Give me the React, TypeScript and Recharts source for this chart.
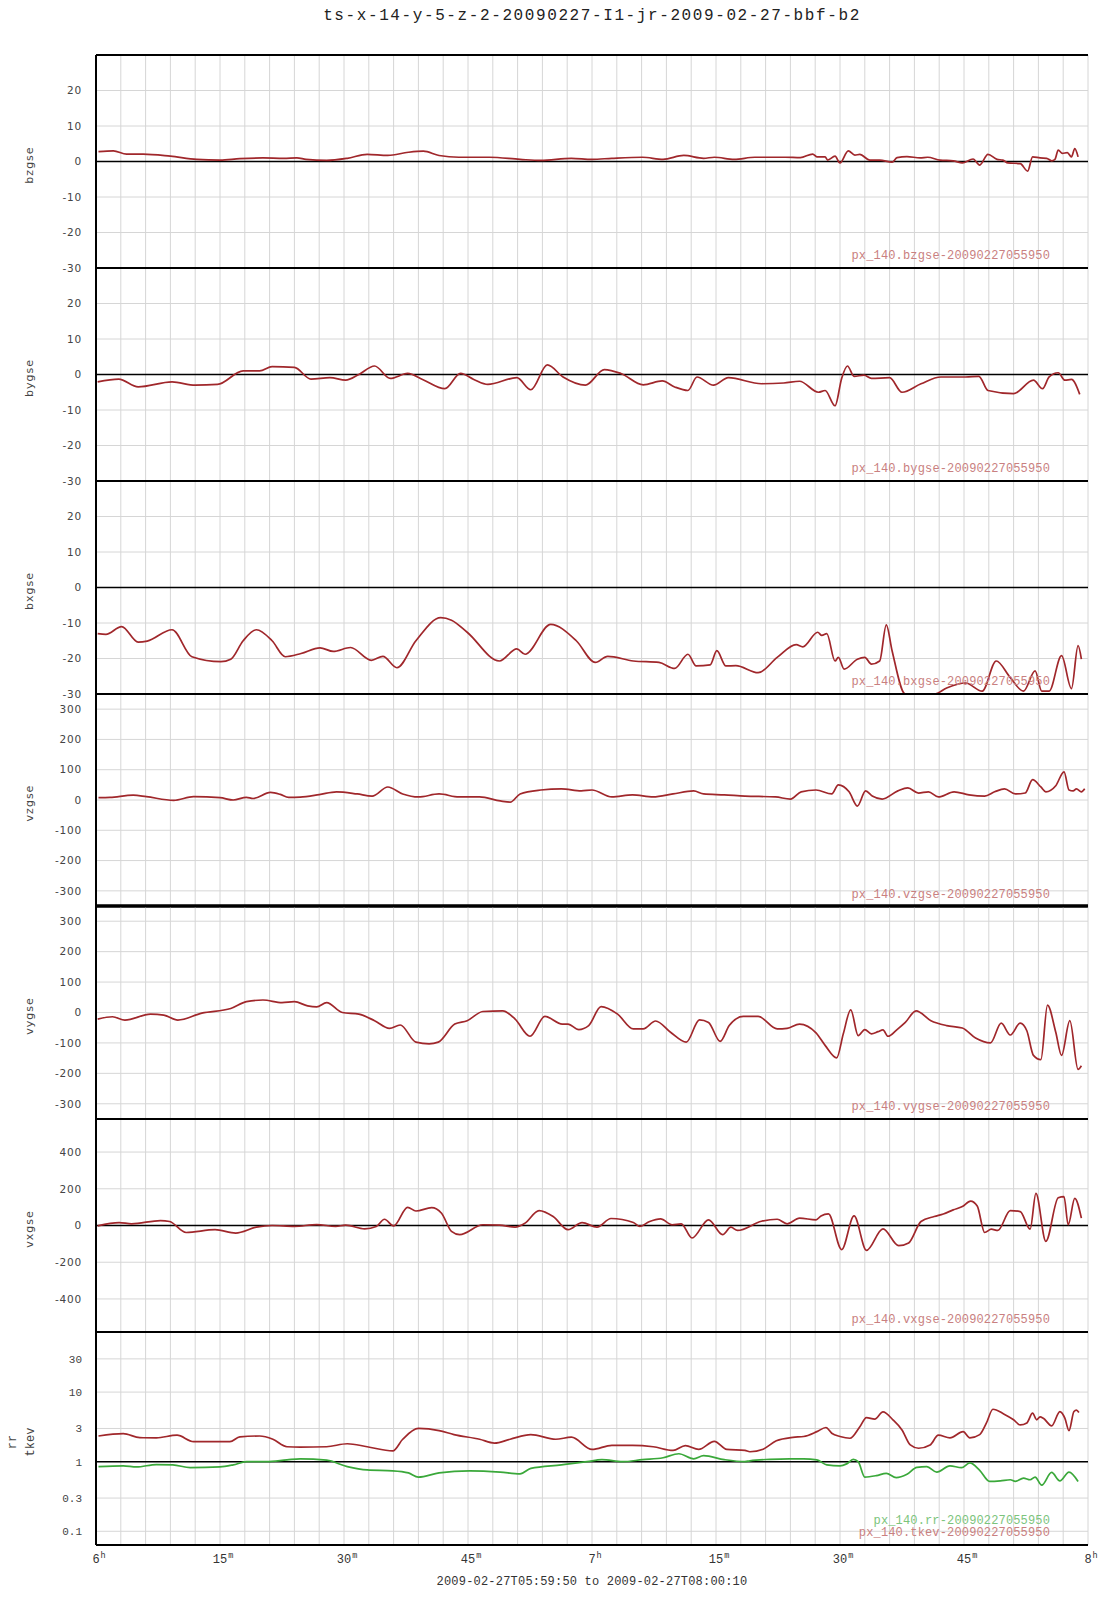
import { LineChart, Line, XAxis, YAxis, CartesianGrid, ReferenceLine } from "recharts";

// ---- data (minutes after 06:00) ----
const bzgseMinutes = [0.3, 2.1, 3.7, 5.7, 9.0, 12.2, 15.0, 17.4, 20.2, 22.7, 24.3, 25.4, 27.9, 30.4, 32.8, 35.3, 37.8, 39.6, 41.5, 43.9, 47.6, 51.3, 53.8, 57.5, 60.0, 62.4, 66.1, 68.6, 71.1, 73.5, 74.8, 77.2, 79.7, 83.4, 85.2, 86.7, 87.2, 88.2, 88.5, 89.4, 90.0, 91.0, 91.8, 92.4, 93.6, 94.8, 96.3, 96.9, 98.1, 99.7, 100.6, 102.1, 103.7, 104.8, 106.1, 106.9, 107.9, 109.0, 109.7, 110.3, 111.8, 112.7, 113.3, 114.2, 115.0, 115.6, 116.0, 116.4, 116.9, 117.5, 118.0, 118.4, 118.8];
const bzgseValues = [2.8, 3.0, 2.1, 2.1, 1.5, 0.6, 0.4, 0.8, 1.0, 0.9, 1.0, 0.6, 0.3, 0.9, 2.0, 1.7, 2.6, 2.9, 1.7, 1.2, 1.2, 0.6, 0.3, 0.9, 0.6, 0.9, 1.2, 0.6, 1.7, 0.9, 1.2, 0.6, 1.2, 1.2, 1.1, 2.1, 1.3, 1.3, 0.4, 1.5, -0.4, 3.0, 1.8, 2.0, 0.4, 0.4, -0.2, 1.1, 1.4, 1.0, 1.2, 0.4, 0.2, -0.4, 0.7, -1.0, 2.0, 0.6, 0.4, -0.4, -0.6, -2.7, 1.3, 1.0, 0.9, 0.2, 0.6, 3.2, 2.3, 2.5, 1.3, 3.6, 1.3];

const bygseMinutes = [0.2, 2.75, 5.1, 9.2, 12.0, 14.7, 17.8, 19.8, 21.3, 24.0, 26.0, 28.3, 30.2, 31.8, 33.7, 35.6, 37.7, 39.5, 42.2, 44.1, 45.7, 47.4, 50.9, 52.6, 54.6, 56.5, 59.2, 61.5, 63.5, 66.2, 68.5, 70.0, 71.6, 72.7, 74.7, 76.5, 80.5, 83.2, 85.1, 87.4, 88.2, 89.4, 90.2, 90.9, 91.7, 92.9, 93.8, 96.0, 97.5, 99.8, 102.2, 105.2, 106.8, 107.9, 111.0, 113.4, 114.5, 115.3, 116.4, 117.2, 118.0, 119.0];
const bygseValues = [-2.1, -1.3, -3.5, -2.1, -3.0, -2.8, 1.0, 1.0, 2.2, 2.0, -1.3, -0.9, -1.6, 0, 2.4, -1.1, 0.3, -1.4, -4.0, 0.3, -1.4, -2.8, -0.9, -4.3, 2.7, -0.7, -3.0, 1.4, 0.3, -2.9, -1.8, -3.5, -4.5, -0.7, -3.0, -0.9, -2.6, -2.4, -1.9, -5.0, -4.5, -8.8, -1.1, 2.4, -0.5, -0.2, -1.1, -0.9, -5.0, -2.6, -0.7, -0.7, -0.5, -4.5, -5.4, -1.6, -4.0, -0.7, 0.5, -1.6, -1.4, -5.6];

const bxgseMinutes = [0.2, 1.2, 3.1, 5.1, 6.2, 9.2, 11.6, 15.1, 16.3, 17.8, 19.4, 21.3, 22.9, 24.8, 27.1, 28.7, 30.8, 33.3, 34.7, 36.4, 38.7, 41.7, 43.0, 44.9, 48.8, 50.9, 51.9, 55.0, 58.1, 60.4, 61.9, 65.0, 68.1, 70.0, 71.6, 72.6, 74.3, 75.1, 76.2, 77.4, 80.1, 82.4, 84.7, 85.5, 87.3, 87.8, 88.4, 89.4, 89.8, 90.5, 92.1, 93.0, 93.8, 94.8, 95.6, 96.3, 97.9, 101.4, 102.9, 105.2, 107.2, 108.9, 110.6, 112.2, 113.6, 114.4, 115.3, 116.8, 118.0, 118.8, 119.2];
const bxgseValues = [-13.0, -13.2, -11.0, -15.4, -15.1, -11.9, -19.5, -20.9, -20.2, -15.0, -11.9, -15.0, -19.5, -18.6, -17.0, -18.0, -16.9, -20.5, -19.4, -22.6, -15.0, -8.5, -9.2, -12.6, -20.7, -17.3, -18.8, -10.4, -15.0, -21.1, -19.4, -20.7, -21.1, -22.8, -18.8, -22.1, -21.8, -17.8, -22.1, -22.0, -24.0, -19.7, -16.1, -16.7, -12.6, -13.5, -13.0, -20.7, -19.7, -23.0, -20.2, -19.7, -21.6, -20.7, -10.5, -17.8, -30, -30, -28.3, -26.9, -29.2, -20.7, -25.4, -29.2, -23.5, -29.2, -29.2, -19.2, -28.5, -16.4, -20.2];

const vzgseMinutes = [0.3, 1.7, 4.5, 6.1, 9.4, 11.8, 15.0, 16.6, 18.2, 19.0, 21.1, 22.3, 23.3, 24.7, 27.0, 29.1, 31.6, 33.4, 35.3, 37.1, 39.0, 41.5, 43.9, 46.4, 48.9, 50.1, 51.3, 53.8, 56.3, 58.7, 60.0, 62.4, 64.9, 67.4, 69.8, 72.3, 73.5, 76.0, 78.5, 82.2, 84.0, 85.3, 87.1, 89.0, 89.8, 91.1, 92.1, 93.1, 93.9, 95.1, 97.0, 98.2, 99.5, 100.7, 101.9, 103.8, 105.6, 107.5, 108.7, 109.9, 111.2, 112.4, 113.3, 114.3, 114.9, 116.1, 117.1, 117.7, 118.2, 118.6, 119.2, 119.6];
const vzgseValues = [7.6, 8.7, 16, 11, -1, 11, 7.6, 0, 8.7, 5, 25, 18.5, 8.7, 9.8, 18, 27, 20, 13, 43, 20, 10, 20, 10, 10, -3, -7, 20, 33, 37, 30, 33, 10, 17, 10, 20, 30, 20, 17, 13, 10, 3, 27, 33, 20, 50, 27, -20, 30, 13, 3, 30, 40, 23, 27, 10, 27, 17, 13, 27, 37, 20, 23, 67, 43, 27, 47, 93, 33, 30, 37, 27, 37];

const vygseMinutes = [0.2, 2.0, 3.5, 6.6, 8.2, 9.9, 12.8, 16.3, 18.2, 20.2, 22.5, 24.0, 25.6, 26.7, 27.9, 29.8, 31.8, 33.7, 35.5, 36.8, 38.7, 40.3, 41.4, 43.4, 44.9, 46.8, 49.2, 50.7, 52.5, 54.3, 56.4, 57.1, 58.4, 59.6, 61.1, 63.1, 65.0, 66.2, 67.7, 69.5, 71.4, 73.0, 74.1, 75.5, 76.6, 78.3, 80.1, 82.4, 83.6, 85.1, 87.1, 88.2, 89.6, 90.4, 91.3, 92.2, 93.0, 93.8, 94.6, 95.2, 95.8, 96.9, 97.9, 99.2, 101.0, 102.9, 104.8, 106.4, 108.2, 109.5, 110.6, 111.8, 112.6, 113.4, 114.3, 115.1, 116.1, 116.8, 117.8, 118.8, 119.2];
const vygseValues = [-21.7, -14, -25, -5.4, -8.7, -25, -2.2, 13, 35.7, 41, 32.5, 35.7, 21.7, 18.4, 32.5, 0, -5.4, -27, -52, -41, -97.5, -103, -97.5, -38, -27, 3.2, 5.4, -21.7, -78, -13, -38, -38, -56, -43, 19.5, -5.4, -54, -54, -28, -65, -97.5, -24, -32.5, -95, -43, -13, -13, -54, -52, -38, -67, -108, -149, -70, 8.7, -76, -56, -70, -63, -57, -78, -56, -32.5, 5.4, -27, -43, -51, -84, -100, -35, -74, -35, -60, -141, -155, 24, -65, -141, -27, -187, -175];

const vxgseMinutes = [0.2, 2.8, 4.3, 7.8, 8.9, 10.9, 14.4, 16.9, 19.4, 21.3, 24.0, 26.7, 29.0, 30.2, 32.5, 33.9, 34.9, 36.0, 37.7, 38.7, 40.6, 41.8, 43.0, 44.0, 46.8, 48.8, 50.7, 51.9, 53.6, 55.3, 57.1, 58.8, 60.6, 62.3, 65.0, 65.8, 66.9, 68.3, 69.7, 70.8, 72.1, 74.1, 75.8, 76.8, 77.6, 80.5, 82.4, 83.6, 85.1, 87.1, 87.7, 88.6, 90.2, 91.7, 93.2, 95.2, 97.1, 98.3, 99.8, 101.4, 102.5, 103.7, 104.8, 105.8, 106.6, 107.5, 108.3, 109.1, 110.6, 111.8, 113.0, 113.7, 114.9, 116.4, 117.1, 117.6, 118.4, 119.2];
const vxgseValues = [-2, 16, 9, 27, 22, -38, -23, -41, -9, 0, -5, 5, -5, 2, -18, -5, 34, -2, 99, 79, 97, 67, -32, -50, 4, 2, -9, 13, 81, 49, -23, 16, -9, 38, 16, -5, 20, 36, 4, 9, -68, 31, -50, -9, -27, 23, 34, 9, 40, 31, 52, 63, -131, 52, -135, -18, -110, -95, 22, 49, 63, 85, 103, 133, 106, -38, -20, -27, 81, 76, -20, 175, -86, 151, 157, 4, 148, 40];

const tkevMinutes = [0.3, 3.3, 5.3, 7.3, 9.8, 11.8, 16.2, 17.4, 19.8, 21.4, 23.1, 24.7, 27.9, 30.4, 32.8, 35.9, 37.1, 39.0, 41.5, 43.3, 46.4, 48.2, 50.1, 52.6, 55.6, 57.5, 60.0, 62.4, 64.9, 67.4, 69.8, 71.3, 72.9, 74.8, 76.3, 78.5, 79.1, 80.7, 82.3, 84.3, 85.6, 87.2, 88.3, 89.0, 90.0, 91.2, 92.4, 93.2, 94.2, 95.2, 96.4, 97.5, 98.5, 99.5, 100.9, 101.9, 103.3, 104.9, 105.7, 106.9, 107.7, 108.5, 109.8, 111.0, 111.8, 112.6, 113.3, 113.8, 114.2, 114.6, 115.6, 116.6, 117.2, 117.7, 118.3, 118.6, 118.9];
const tkevValues = [2.34, 2.53, 2.21, 2.2, 2.4, 1.94, 1.94, 2.27, 2.34, 2.1, 1.64, 1.62, 1.64, 1.81, 1.64, 1.43, 2.1, 3.0, 2.8, 2.45, 2.1, 1.85, 2.1, 2.45, 2.1, 2.25, 1.5, 1.72, 1.72, 1.64, 1.45, 1.7, 1.5, 1.96, 1.5, 1.45, 1.39, 1.51, 2.0, 2.24, 2.3, 2.7, 3.1, 2.56, 2.3, 2.17, 3.18, 4.3, 4.1, 5.2, 4.0, 2.86, 1.74, 1.56, 1.74, 2.4, 2.2, 2.7, 2.2, 2.45, 3.57, 5.67, 4.86, 4.0, 3.37, 3.6, 4.97, 4.0, 4.4, 4.2, 3.27, 5.25, 4.23, 2.8, 5.25, 5.5, 5.1];

const rrMinutes = [0.3, 3.3, 4.9, 7.3, 9.3, 11.4, 15.0, 16.6, 18.2, 20.6, 23.1, 24.7, 27.9, 30.4, 32.8, 35.9, 37.8, 39.0, 41.5, 45.2, 48.9, 51.3, 52.6, 56.3, 59.4, 61.2, 63.7, 66.1, 68.6, 70.5, 72.3, 73.5, 76.0, 78.5, 79.1, 81.5, 83.9, 85.6, 87.2, 88.4, 90.0, 90.8, 91.6, 92.2, 93.0, 94.4, 95.6, 96.8, 98.1, 99.3, 100.5, 101.7, 103.3, 104.7, 105.7, 106.9, 108.1, 109.4, 110.6, 111.2, 112.2, 113.0, 113.6, 114.4, 115.6, 116.6, 117.7, 118.8];
const rrValues = [0.85, 0.87, 0.84, 0.91, 0.9, 0.82, 0.84, 0.9, 1.0, 1.0, 1.06, 1.1, 1.05, 0.85, 0.76, 0.74, 0.69, 0.6, 0.69, 0.74, 0.71, 0.67, 0.8, 0.9, 1.0, 1.07, 1.0, 1.07, 1.14, 1.3, 1.1, 1.22, 1.07, 1.0, 1.03, 1.08, 1.1, 1.1, 1.06, 0.9, 0.87, 0.93, 1.08, 1.0, 0.6, 0.63, 0.68, 0.59, 0.66, 0.83, 0.85, 0.71, 0.87, 0.82, 0.96, 0.75, 0.52, 0.53, 0.55, 0.52, 0.58, 0.55, 0.6, 0.46, 0.7, 0.53, 0.71, 0.52];

// axis ticks / labels
const gridMinutes = Array.from({ length: 41 }, (_, i) => i * 3);
const edgeMarkMinutes = [9, 12, 24, 36, 39, 48, 51, 60, 63, 72, 75, 84, 87, 99, 111, 114];
const hourTickMinutes = [0, 15, 30, 45, 60, 75, 90, 105, 120];
const hourTickMain = ["6", "15", "30", "45", "7", "15", "30", "45", "8"];
const hourTickSup = ["h", "m", "m", "m", "h", "m", "m", "m", "h"];
const bTicks = [20, 10, 0, -10, -20, -30];
const vTicks = [300, 200, 100, 0, -100, -200, -300];
const vxTicks = [400, 200, 0, -200, -400];
const logTicks = [30, 10, 3, 1, 0.3, 0.1];
const logMinorTicks = [0.07, 0.08, 0.09, 0.2, 0.3, 0.4, 0.5, 0.6, 0.7, 0.8, 0.9, 2, 3, 4, 5, 6, 7, 8, 9, 20, 30, 40, 50, 60, 70];

const TITLE = "ts-x-14-y-5-z-2-20090227-I1-jr-2009-02-27-bbf-b2";
const CAPTION = "2009-02-27T05:59:50 to 2009-02-27T08:00:10";
const STAMP = "20090227055950";

const RED = "#a0272b";
const GREEN = "#3aa83a";
const RED_TEXT = "#c98080";
const GREEN_TEXT = "#7cc47c";

const PAGE_W = 1107;
const PAGE_H = 1600;
const PLOT_LEFT = 96;
const PLOT_RIGHT = 1088;
// panel edges in page pixels (top of panel 1 ... bottom of panel 7)
const PANEL_EDGES = [55, 268, 481, 694, 906, 1119, 1332, 1545];
const Y_AXIS_W = 60;

const pts = (ts: number[], vs: number[]) => ts.map((t, i) => ({ t, v: vs[i] }));

const panels = [
  { label: ["bzgse"], lines: [{ data: pts(bzgseMinutes, bzgseValues), color: RED, name: "bzgse" }], domain: [-30, 30], ticks: bTicks, marks: [10, -30], zero: 0 },
  { label: ["bygse"], lines: [{ data: pts(bygseMinutes, bygseValues), color: RED, name: "bygse" }], domain: [-30, 30], ticks: bTicks, marks: [-10], zero: 0 },
  { label: ["bxgse"], lines: [{ data: pts(bxgseMinutes, bxgseValues), color: RED, name: "bxgse" }], domain: [-30, 30], ticks: bTicks, marks: [-10, -20], zero: 0 },
  { label: ["vzgse"], lines: [{ data: pts(vzgseMinutes, vzgseValues), color: RED, name: "vzgse" }], domain: [-350, 350], ticks: vTicks, marks: [200, 100, -100, -200, -300], zero: null },
  { label: ["vygse"], lines: [{ data: pts(vygseMinutes, vygseValues), color: RED, name: "vygse" }], domain: [-350, 350], ticks: vTicks, marks: [-100, -200], zero: null },
  { label: ["vxgse"], lines: [{ data: pts(vxgseMinutes, vxgseValues), color: RED, name: "vxgse" }], domain: [-580, 580], ticks: vxTicks, marks: [200, -200, -400], zero: 0 },
  {
    label: ["rr", "tkev"],
    lines: [
      { data: pts(rrMinutes, rrValues), color: GREEN, name: "rr" },
      { data: pts(tkevMinutes, tkevValues), color: RED, name: "tkev" },
    ],
    domain: [0.0635, 73],
    ticks: logTicks,
    marks: logMinorTicks,
    zero: 1,
    log: true,
  },
];

const sansTick = { fontFamily: "DejaVu Sans", fontSize: 10.5, fill: "#444", letterSpacing: 0.8 };
const monoTick = { fontFamily: "Liberation Mono", fontSize: 11, fill: "#444" };

// draws nothing, but keeps the axis ticks alive for grid lines and tick marks
function BlankTick() {
  return <g />;
}

function HourTick(props: any) {
  const { x, y, payload } = props;
  const i = hourTickMinutes.indexOf(payload.value);
  if (i < 0) return <g />;
  const main = hourTickMain[i];
  const half = (main.length * 7.2) / 2;
  return (
    <g>
      <text x={x} y={y + 10} textAnchor="middle" fontFamily="Liberation Mono" fontSize={12} fill="#333">
        {main}
      </text>
      <text x={x + half + 1} y={y + 5} fontFamily="Liberation Mono" fontSize={8.5} fill="#333">
        {hourTickSup[i]}
      </text>
    </g>
  );
}

function Panel({ p, idx }: { p: any; idx: number }) {
  const top = PANEL_EDGES[idx];
  const plotBottom = PANEL_EDGES[idx + 1];
  const last = idx === panels.length - 1;
  const xAxisH = last ? 30 : 0;
  const bottom = PAGE_H - plotBottom - xAxisH;
  const markLine = { stroke: "#000", strokeWidth: 1.2 };
  // the panel below vygse starts with a heavier rule
  const topRuleW = idx === 4 ? 3 : 2;
  return (
    <div style={{ position: "absolute", left: 0, top: 0 }}>
      <LineChart
        width={PAGE_W}
        height={PAGE_H}
        margin={{ top, bottom, left: PLOT_LEFT - Y_AXIS_W, right: PAGE_W - PLOT_RIGHT }}
      >
        <CartesianGrid stroke="#d6d6d6" strokeWidth={1} />
        <XAxis
          dataKey="t"
          type="number"
          domain={[0, 120]}
          ticks={gridMinutes}
          interval={0}
          allowDataOverflow
          height={xAxisH}
          axisLine={last ? { stroke: "#000", strokeWidth: 2 } : false}
          tickLine={false}
          tick={last ? <HourTick /> : <BlankTick />}
        />
        {(idx === 0 || last) && (
          <XAxis
            xAxisId="edge"
            orientation={idx === 0 ? "top" : "bottom"}
            type="number"
            domain={[0, 120]}
            ticks={edgeMarkMinutes}
            interval={0}
            mirror
            height={0}
            axisLine={false}
            tick={<BlankTick />}
            tickSize={5}
            tickLine={markLine}
          />
        )}
        <YAxis
          type="number"
          scale={p.log ? "log" : "auto"}
          domain={p.domain}
          allowDataOverflow
          ticks={p.ticks}
          interval={0}
          width={Y_AXIS_W}
          axisLine={{ stroke: "#000", strokeWidth: 2 }}
          tickLine={false}
          tickSize={6}
          tickMargin={8}
          tick={p.log ? monoTick : sansTick}
        />
        <YAxis
          yAxisId="ml"
          type="number"
          scale={p.log ? "log" : "auto"}
          domain={p.domain}
          allowDataOverflow
          ticks={p.marks}
          interval={0}
          width={0}
          mirror
          axisLine={false}
          tick={<BlankTick />}
          tickSize={3}
          tickLine={markLine}
        />
        <YAxis
          yAxisId="mr"
          orientation="right"
          type="number"
          scale={p.log ? "log" : "auto"}
          domain={p.domain}
          allowDataOverflow
          ticks={p.marks}
          interval={0}
          width={0}
          mirror
          axisLine={{ stroke: "#000", strokeWidth: 2 }}
          tick={<BlankTick />}
          tickSize={3}
          tickLine={markLine}
        />
        <ReferenceLine y={p.domain[1]} stroke="#000" strokeWidth={topRuleW} ifOverflow="visible" />
        <ReferenceLine y={p.domain[0]} stroke="#000" strokeWidth={idx === 3 ? 3 : 2} ifOverflow="visible" />
        {p.zero !== null && <ReferenceLine y={p.zero} stroke="#000" strokeWidth={1.6} />}
        {p.lines.map((l: any) => (
          <Line
            key={l.name}
            data={l.data}
            dataKey="v"
            type="monotone"
            stroke={l.color}
            strokeWidth={1.7}
            dot={false}
            isAnimationActive={false}
          />
        ))}
      </LineChart>
    </div>
  );
}

const textBase = { position: "absolute" as const, whiteSpace: "nowrap" as const };

export default function App() {
  return (
    <div style={{ position: "absolute", left: 0, top: 0, width: PAGE_W, height: PAGE_H, background: "#fff", overflow: "hidden" }}>
      <div style={{ ...textBase, left: 0, width: 1184, top: 6, lineHeight: "20px", textAlign: "center", fontFamily: "Liberation Mono", fontSize: 16, letterSpacing: 1.6, color: "#222" }}>
        {TITLE}
      </div>
      {panels.map((p, i) => (
        <Panel key={i} p={p} idx={i} />
      ))}
      {panels.map((p, i) => {
        const cy = (PANEL_EDGES[i] + PANEL_EDGES[i + 1]) / 2 + 3;
        if (p.label.length === 1) {
          return (
            <div key={"lab" + i} style={{ ...textBase, left: 30 - 50, top: cy - 8, width: 100, height: 16, lineHeight: "16px", textAlign: "center", transform: "rotate(-90deg)", fontFamily: "DejaVu Sans", fontSize: 11, letterSpacing: 1, color: "#444" }}>
              {p.label[0]}
            </div>
          );
        }
        return p.label.map((s: string, j: number) => (
          <div key={"lab" + i + s} style={{ ...textBase, left: 13 + j * 18 - 50, top: cy - 8, width: 100, height: 16, lineHeight: "16px", textAlign: "center", transform: "rotate(-90deg)", fontFamily: "Liberation Mono", fontSize: 12, color: "#444" }}>
            {s}
          </div>
        ));
      })}
      {panels.map((p, i) => {
        const base = PANEL_EDGES[i];
        if (p.lines.length === 1) {
          return (
            <div key={"leg" + i} style={{ ...textBase, left: 0, width: 1050, top: base + 201 - 7, lineHeight: "14px", textAlign: "right", fontFamily: "Liberation Mono", fontSize: 12, letterSpacing: 0.15, color: RED_TEXT }}>
              {"px_140." + p.lines[0].name + "-" + STAMP}
            </div>
          );
        }
        return p.lines.map((l: any, j: number) => (
          <div key={"leg" + i + l.name} style={{ ...textBase, left: 0, width: 1050, top: base + 188.6 + j * 12.7 - 7, lineHeight: "14px", textAlign: "right", fontFamily: "Liberation Mono", fontSize: 12, letterSpacing: 0.15, color: l.color === GREEN ? GREEN_TEXT : RED_TEXT }}>
            {"px_140." + l.name + "-" + STAMP}
          </div>
        ));
      })}
      <div style={{ ...textBase, left: 0, width: 1184, top: 1574, lineHeight: "16px", textAlign: "center", fontFamily: "Liberation Mono", fontSize: 12, letterSpacing: 0.2, color: "#333" }}>
        {CAPTION}
      </div>
    </div>
  );
}
